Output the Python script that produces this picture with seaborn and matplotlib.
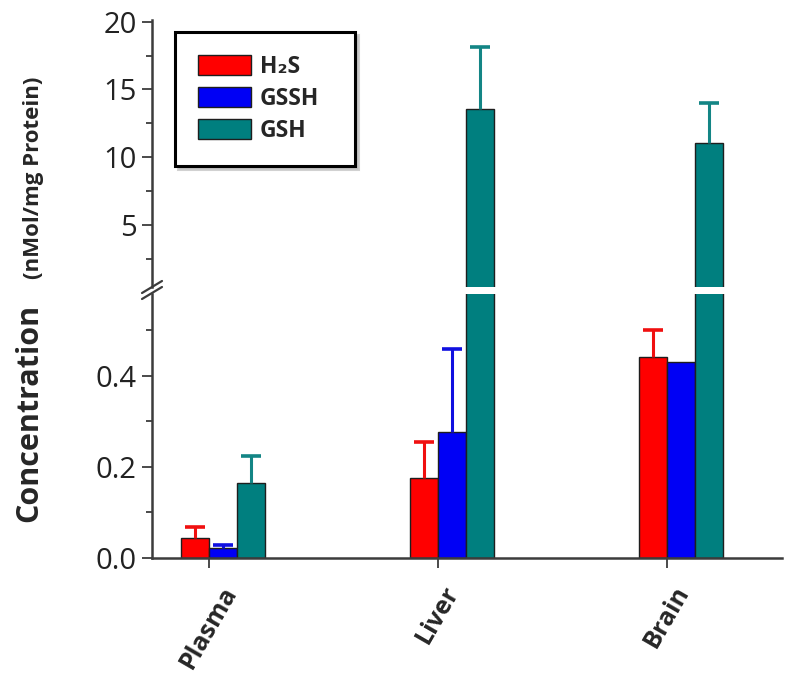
import numpy as np
import pandas as pd
import matplotlib
matplotlib.use("Agg")
import matplotlib.pyplot as plt
import seaborn as sns

# values
tissues = ["Plasma", "Liver", "Brain"]
species = ["H\u2082S", "GSSH", "GSH"]
h2s_mean = [0.044, 0.176, 0.442]
h2s_err = [0.024, 0.079, 0.059]
gssh_mean = [0.022, 0.277, 0.431]
gssh_err = [0.007, 0.182, np.nan]
gsh_mean = [0.165, 13.56, 11.07]
gsh_err = [0.059, 4.55, 2.91]

colors = ["#FF0000", "#0000F5", "#007F7F"]
err_colors = ["#F01010", "#1010E0", "#138585"]

df = pd.DataFrame({
    "tissue": tissues * 3,
    "species": [species[0]] * 3 + [species[1]] * 3 + [species[2]] * 3,
    "value": h2s_mean + gssh_mean + gsh_mean,
})
errs = [h2s_err, gssh_err, gsh_err]

sns.set_style("ticks")
plt.rcParams["font.family"] = ["Open Sans", "DejaVu Sans"]

fig = plt.figure(figsize=(8, 6.92), dpi=100)
H = 692
ax_top = fig.add_axes([0.19, 1 - 287 / H, 0.7875, (287 - 20) / H])
ax_bot = fig.add_axes([0.19, 1 - 558 / H, 0.7875, (558 - 294) / H])
top_lim = (0.42, 20.13)
bot_lim = (0, 0.58)

spine_col = "#3c3c3c"
bar_groups = {}
for ax, lim in ((ax_top, top_lim), (ax_bot, bot_lim)):
    sns.barplot(data=df, x="tissue", y="value", hue="species",
                order=tissues, hue_order=species, palette=colors,
                saturation=1, width=0.367, errorbar=None,
                edgecolor="#1e1e1e", linewidth=1.0, ax=ax)
    conts = list(ax.containers)[:3]
    bar_groups[ax] = conts
    # one-sided error bars
    for k, cont in enumerate(conts):
        for j, bar in enumerate(cont):
            y = bar.get_height()
            if ax is ax_top and y < bot_lim[1]:
                # this bar fits in the lower panel, keep it out of the top one
                bar.set_visible(False)
                continue
            e = errs[k][j]
            if np.isnan(e):
                continue
            x = bar.get_x() + bar.get_width() / 2
            _, caps, _ = ax.errorbar(x, y, yerr=[[0], [e]], fmt="none",
                                     ecolor=err_colors[k], elinewidth=2.2,
                                     capsize=7.5, capthick=2.6, zorder=1)
            caps[0].set_visible(False)
    ax.set_ylim(*lim)
    ax.set_xlim(-0.308, 2.443)
    ax.set_xlabel("")
    ax.set_ylabel("")
    for s in ["top", "right"]:
        ax.spines[s].set_visible(False)
    ax.spines["left"].set_color(spine_col)
    ax.spines["left"].set_linewidth(1.8)
    ax.tick_params(axis="y", labelsize=21, length=7, width=1.3,
                   color=spine_col, labelcolor="#222222", pad=4)
    ax.tick_params(axis="y", which="minor", length=4.5, width=1.3, color=spine_col)

# handles for the legend before removing seaborn's own
handles, labels = ax_top.get_legend_handles_labels()
ax_bot.get_legend().remove()
ax_top.get_legend().remove()

# top panel
ax_top.set_yticks([5, 10, 15, 20])
ax_top.set_yticks([2.5, 7.5, 12.5, 17.5], minor=True)
ax_top.spines["bottom"].set_visible(False)
ax_top.set_xticks([])

# bottom panel
ax_bot.set_yticks([0.0, 0.2, 0.4])
ax_bot.set_yticklabels(["0.0", "0.2", "0.4"])
ax_bot.set_yticks([0.1, 0.3, 0.5], minor=True)
ax_bot.spines["bottom"].set_color(spine_col)
ax_bot.spines["bottom"].set_linewidth(1.8)
ticks = [b.get_x() + b.get_width() for b in bar_groups[ax_bot][0]]
ax_bot.set_xticks(ticks)
ax_bot.set_xticklabels(tissues, rotation=60, fontsize=18, fontweight="bold",
                       ha="center")
ax_bot.tick_params(axis="x", length=7, width=1.3, color=spine_col, pad=10)

# axis break marks
for dy in (0, 6):
    fig.add_artist(plt.Line2D([142 / 800, 162 / 800],
                              [1 - (293 + dy) / H, 1 - (281 + dy) / H],
                              color=spine_col, lw=1.6))

leg = ax_top.legend(handles, labels, loc="upper left",
                    bbox_to_anchor=(175 / 800, 1 - 167 / H, 180 / 800, 135 / H),
                    bbox_transform=fig.transFigure, borderaxespad=0,
                    mode="expand",
                    fancybox=False, frameon=True, edgecolor="black",
                    handlelength=2.3, handleheight=0.95, handletextpad=0.4,
                    labelspacing=0.35, borderpad=1.0,
                    prop={"size": 16.5, "weight": "bold"},
                    shadow={"color": "0.7", "alpha": 0.6})
leg.get_frame().set_linewidth(2.2)

fig.text(29 / 800, 1 - 413 / H, "Concentration", rotation=90,
         fontsize=22, fontweight="bold", ha="center", va="center")
fig.text(34 / 800, 1 - 178 / H, "(nMol/mg Protein)", rotation=90,
         fontsize=16, fontweight="bold", ha="center", va="center")

fig.savefig("out.png", dpi=100)
